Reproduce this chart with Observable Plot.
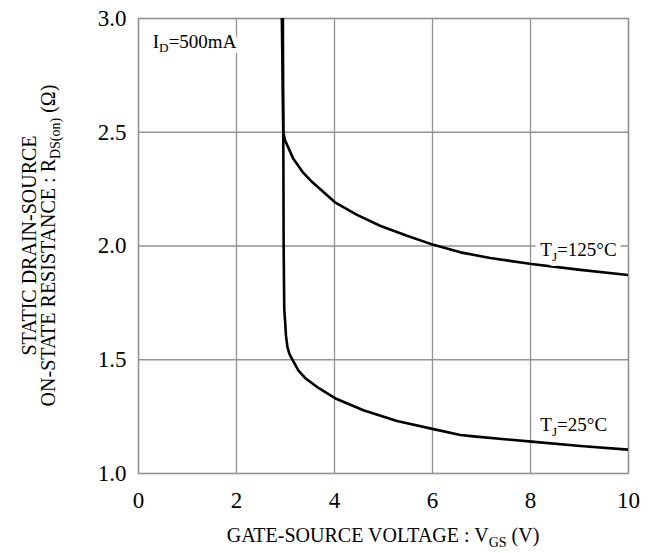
<!DOCTYPE html>
<html>
<head>
<meta charset="utf-8">
<script src="https://cdn.jsdelivr.net/npm/d3@7"></script>
<script src="https://cdn.jsdelivr.net/npm/@observablehq/plot@0.6"></script>
<style>
  html, body { margin: 0; padding: 0; background: white; }
  #chart svg, #chart svg text { font-family: "Liberation Serif", "Times New Roman", Times, serif !important; }
</style>
</head>
<body>
<div id="chart"></div>
<script>
// ---- data ----
const vgs125 = [2.92, 2.94, 2.955, 2.99, 3.16, 3.35, 3.55, 4.01, 4.46, 4.93, 5.48, 6.02, 6.57, 7.18, 8.02, 9.02, 10.0];
const r125   = [3.10, 2.75, 2.50, 2.465, 2.383, 2.325, 2.28, 2.192, 2.137, 2.089, 2.045, 2.005, 1.972, 1.947, 1.921, 1.895, 1.872];

const vgs25 = [2.945, 2.955, 2.962, 2.975, 2.993, 3.01, 3.04, 3.081, 3.163, 3.265, 3.40, 3.673, 4.01, 4.59, 5.275, 6.02, 6.57, 6.84, 8.02, 9.02, 10.0];
const r25   = [3.10, 2.50, 2.00, 1.72, 1.665, 1.605, 1.555, 1.525, 1.492, 1.452, 1.420, 1.376, 1.331, 1.278, 1.231, 1.195, 1.169, 1.163, 1.140, 1.121, 1.105];

const xTicks = [0, 2, 4, 6, 8, 10];
const yTicks = [1.0, 1.5, 2.0, 2.5, 3.0];

const annoText = ["I_{D}=500mA", "T_{J}=125°C", "T_{J}=25°C"];
const annoX    = [0.29, 8.20, 8.20];
const annoY    = [2.872, 1.957, 1.187];

const xLabel  = "GATE-SOURCE VOLTAGE : V_{GS} (V)";
const yLabel1 = "STATIC DRAIN-SOURCE";
const yLabel2 = "ON-STATE RESISTANCE : R_{DS(on)} (Ω)";

// ---- tables ----
const rows = [
  ...vgs125.map((v, i) => ({series: "125", v, r: r125[i]})),
  ...vgs25.map((v, i) => ({series: "25", v, r: r25[i]}))
];
const annotations = annoText.map((t, i) => ({t, x: annoX[i], y: annoY[i]}));

const FONT = '"Liberation Serif", "Times New Roman", Times, serif';
const GRID = "#929292";
const TICK_FS = 23;
const LABEL_FS = 20;
const ANNO_FS = 19;

const chart = Plot.plot({
  width: 651,
  height: 553,
  marginLeft: 138,
  marginRight: 23,
  marginTop: 18,
  marginBottom: 80,
  style: {fontFamily: FONT, background: "white", color: "black"},
  x: {domain: [0, 10]},
  y: {domain: [1, 3]},
  marks: [
    Plot.gridX(xTicks.slice(1, -1), {stroke: GRID, strokeOpacity: 1, strokeWidth: 1.3}),
    Plot.gridY(yTicks.slice(1, -1), {stroke: GRID, strokeOpacity: 1, strokeWidth: 1.3}),
    Plot.frame({stroke: GRID, strokeWidth: 1.6}),
    Plot.axisX(xTicks, {tickSize: 0, tickPadding: 18, fontSize: TICK_FS, fontFamily: FONT, label: null}),
    Plot.axisY(yTicks, {tickSize: 0, tickPadding: 12, fontSize: TICK_FS, fontFamily: FONT, tickFormat: d3.format(".1f"), label: null}),
    Plot.line(rows, {x: "v", y: "r", z: "series", stroke: "black", strokeWidth: 2.6, clip: true}),
    // white halo underneath the labels
    Plot.text(annotations, {x: "x", y: "y", text: "t", textAnchor: "start", lineAnchor: "bottom",
      fontSize: ANNO_FS, fontFamily: FONT, fill: "white", stroke: "white", strokeWidth: 10}),
    Plot.text(annotations, {x: "x", y: "y", text: "t", textAnchor: "start", lineAnchor: "bottom",
      fontSize: ANNO_FS, fontFamily: FONT, fill: "black"})
  ]
});

document.getElementById("chart").appendChild(chart);

// rich text with subscripts: "A_{sub}B"
function richText(textEl, str, fontSize) {
  const sel = d3.select(textEl);
  sel.text(null);
  const parts = [];
  const re = /_\{([^}]*)\}/g;
  let last = 0, m;
  while ((m = re.exec(str)) !== null) {
    if (m.index > last) parts.push({s: str.slice(last, m.index), sub: false});
    parts.push({s: m[1], sub: true});
    last = re.lastIndex;
  }
  if (last < str.length) parts.push({s: str.slice(last), sub: false});
  const shift = fontSize * 0.25;
  let prevSub = false;
  parts.forEach(p => {
    const ts = sel.append("tspan").text(p.s);
    if (p.sub) {
      ts.attr("font-size", (fontSize * 0.7).toFixed(1)).attr("dy", shift);
    } else if (prevSub) {
      ts.attr("dy", -shift);
    }
    prevSub = p.sub;
  });
}

const svg = d3.select(chart);
svg.selectAll("text").each(function() {
  const s = this.textContent;
  if (s.includes("_{")) richText(this, s, ANNO_FS);
});

// axis labels
const xl = svg.append("text")
  .attr("x", (138 + 628) / 2)
  .attr("y", 542)
  .attr("text-anchor", "middle")
  .attr("font-size", LABEL_FS)
  .attr("font-family", FONT)
  .attr("fill", "black");
richText(xl.node(), xLabel, LABEL_FS);

const cy = (18 + 473) / 2;
const yl1 = svg.append("text")
  .attr("transform", `translate(36,${cy}) rotate(-90)`)
  .attr("text-anchor", "middle")
  .attr("font-size", LABEL_FS)
  .attr("font-family", FONT)
  .attr("fill", "black");
richText(yl1.node(), yLabel1, LABEL_FS);

const yl2 = svg.append("text")
  .attr("transform", `translate(55,${cy}) rotate(-90)`)
  .attr("text-anchor", "middle")
  .attr("font-size", LABEL_FS)
  .attr("font-family", FONT)
  .attr("fill", "black");
richText(yl2.node(), yLabel2, LABEL_FS);
</script>
</body>
</html>
